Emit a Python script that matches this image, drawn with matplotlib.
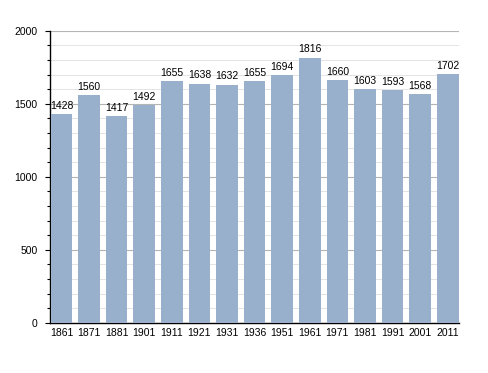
import matplotlib
matplotlib.use("Agg")
import matplotlib.pyplot as plt
from matplotlib.ticker import MultipleLocator

years = ["1861", "1871", "1881", "1901", "1911", "1921", "1931", "1936",
         "1951", "1961", "1971", "1981", "1991", "2001", "2011"]
population = [1428, 1560, 1417, 1492, 1655, 1638, 1632, 1655,
              1694, 1816, 1660, 1603, 1593, 1568, 1702]

W, H = 488, 373
fig = plt.figure(figsize=(W / 100, H / 100), dpi=100)
left, right, top, bottom = 50, 458.5, 30.8, 322.7
ax = fig.add_axes([left / W, 1 - bottom / H, (right - left) / W, (bottom - top) / H])

x = range(len(years))
ax.bar(x, population, width=0.78, color="#99b0cc", zorder=3)
for xi, v in zip(x, population):
    ax.text(xi, v + 22, str(v), ha="center", va="bottom", fontsize=7.5,
            family="Liberation Sans", zorder=4)

ax.set_xlim(-0.415, len(years) - 1 + 0.39)
ax.set_ylim(0, 2000)
ax.yaxis.set_major_locator(MultipleLocator(500))
ax.yaxis.set_minor_locator(MultipleLocator(100))
ax.grid(axis="y", which="major", color="#b4b4b4", linewidth=0.8, zorder=0)
ax.grid(axis="y", which="minor", color="#e4e4e4", linewidth=0.7, zorder=0)
ax.set_xticks(list(x))
ax.set_xticklabels(years)
for lab in ax.get_xticklabels() + ax.get_yticklabels():
    lab.set_fontsize(7.5)
    lab.set_family("Liberation Sans")
ax.tick_params(axis="x", length=0, pad=3.5)
ax.tick_params(axis="y", which="major", length=3.6, width=0.8, pad=5.5)
ax.tick_params(axis="y", which="minor", length=2, width=0.8)
for s in ["top", "right"]:
    ax.spines[s].set_visible(False)
ax.spines["left"].set_linewidth(1)
ax.spines["bottom"].set_linewidth(1)

fig.savefig("out.png", dpi=100)
